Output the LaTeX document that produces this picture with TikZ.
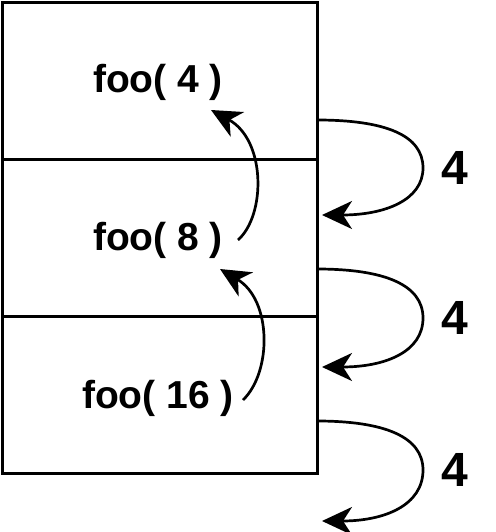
\documentclass[tikz,border=0pt]{standalone}
\usepackage{fontspec}
\setmainfont{Liberation Sans}
\usetikzlibrary{arrows.meta}
\begin{document}
\begin{tikzpicture}[x=1pt,y=-1pt,
  box/.style={draw=black,line width=3pt,minimum width=315pt,minimum height=157.3pt,inner sep=0pt,outer sep=0pt},
  lbl/.style={font=\fontsize{39}{41}\selectfont\bfseries,inner sep=0pt},
  num/.style={font=\fontsize{48}{50}\selectfont\bfseries,inner sep=0pt},
  arr/.style={line width=2.7pt,-{Stealth[length=30pt,width=28pt,inset=9pt]}}]
\useasboundingbox (0,0) rectangle (495,532);
\node[box] (b1) at (159.5,80.7) {};
\node[box] (b2) at (159.5,238) {};
\node[box] (b3) at (159.5,395.3) {};
\node[lbl] (l1) at (158,82) {foo( 4 )};
\node[lbl] (l2) at (158,240) {foo( 8 )};
\node[lbl] (l3) at (158,398) {foo( 16 )};
\node[num] (n1) at (455,168) {4};
\node[num] (n2) at (455,318) {4};
\node[num] (n3) at (455,470) {4};
% right arrows
\coordinate (r1s) at (317,120);
\coordinate (r1e) at (322,215);
\coordinate (r2s) at (317,269);
\coordinate (r2e) at (322,367);
\coordinate (r3s) at (317,421);
\coordinate (r3e) at (322,521);
\draw[arr] (r1s) .. controls (385,120) and (423,135) .. (423,168) .. controls (423,200) and (385,215) .. (r1e);
\draw[arr] (r2s) .. controls (385,269) and (423,285) .. (423,318) .. controls (423,352) and (385,367) .. (r2e);
\draw[arr] (r3s) .. controls (385,421) and (423,437) .. (423,470) .. controls (423,505) and (385,521) .. (r3e);
% left arrows
\coordinate (a1s) at (238,240);
\coordinate (a1e) at (211,110);
\coordinate (a2s) at (243,400);
\coordinate (a2e) at (220,269);
\draw[arr] (a1s) .. controls (266,215) and (266,140) .. (a1e);
\draw[arr] (a2s) .. controls (272,372) and (272,300) .. (a2e);
\end{tikzpicture}
\end{document}
